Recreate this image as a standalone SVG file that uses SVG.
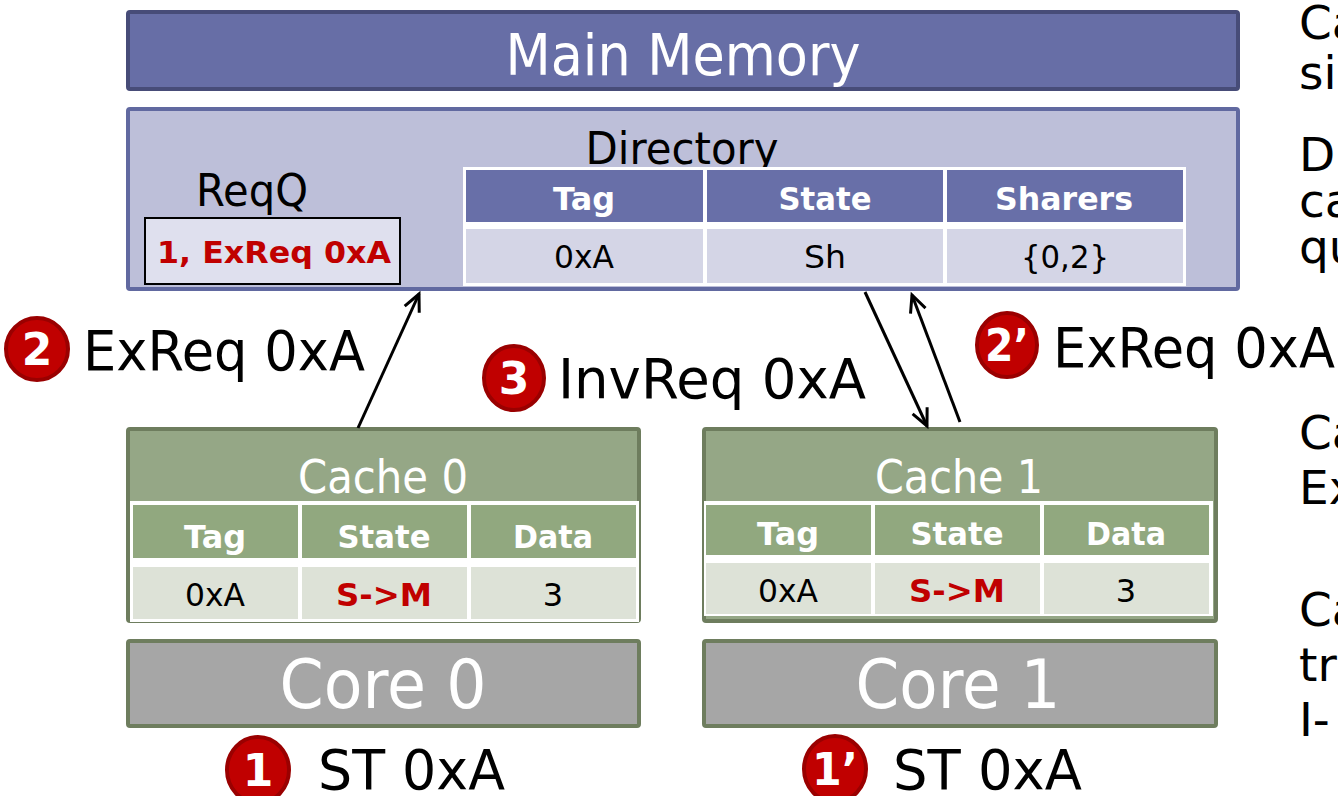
<svg xmlns="http://www.w3.org/2000/svg" width="1338" height="796" viewBox="0 0 1338 796">
<style>
text{font-family:"DejaVu Sans","Liberation Sans",sans-serif}
.c{text-anchor:middle}
.hd{font-weight:bold;fill:#fff;font-size:32px}
.cell{font-size:32px;fill:#000}
.red{font-weight:bold;fill:#c00000}
.big{font-size:56px;fill:#000}
.side{font-size:47px;fill:#000}
.badge{fill:#c00000;stroke:#9a0000;stroke-width:4}
.bnum{font-weight:bold;fill:#fff;font-size:44px;text-anchor:middle}
.conn{stroke:#000;stroke-width:3;fill:none}
</style>
<defs>
<marker id="ah" markerUnits="userSpaceOnUse" markerWidth="26" markerHeight="22" refX="19" refY="9" orient="auto" viewBox="0 0 26 18">
<path d="M2,1 L19,9 L2,17" fill="none" stroke="#000" stroke-width="3"/>
</marker>
</defs>

<g id="main-memory">
<rect x="128" y="12" width="1110" height="77" fill="#676ea6" stroke="#474c78" stroke-width="4" rx="2"/>
<text x="683" y="75" class="c" font-size="57" fill="#fff" textLength="355" lengthAdjust="spacingAndGlyphs">Main Memory</text>
</g>

<g id="directory">
<rect x="128" y="109" width="1110" height="180" fill="#bdbfd9" stroke="#6169a0" stroke-width="4" rx="2"/>
<text x="682" y="164" class="c" font-size="45" textLength="193" lengthAdjust="spacingAndGlyphs">Directory</text>
<rect x="463" y="167" width="723" height="119" fill="#fff"/>
<rect x="466" y="170" width="237" height="52" fill="#686fa8"/>
<rect x="707" y="170" width="236" height="52" fill="#686fa8"/>
<rect x="947" y="170" width="236" height="52" fill="#686fa8"/>
<rect x="466" y="229" width="237" height="54" fill="#d4d5e6"/>
<rect x="707" y="229" width="236" height="54" fill="#d4d5e6"/>
<rect x="947" y="229" width="236" height="54" fill="#d4d5e6"/>
<text x="584" y="210" class="hd c" textLength="62" lengthAdjust="spacingAndGlyphs">Tag</text>
<text x="825" y="210" class="hd c" textLength="93" lengthAdjust="spacingAndGlyphs">State</text>
<text x="1064" y="210" class="hd c" textLength="138" lengthAdjust="spacingAndGlyphs">Sharers</text>
<text x="584" y="268" class="cell c" textLength="60" lengthAdjust="spacingAndGlyphs">0xA</text>
<text x="825" y="268" class="cell c" textLength="42" lengthAdjust="spacingAndGlyphs">Sh</text>
<text x="1065" y="268" class="cell c" textLength="88" lengthAdjust="spacingAndGlyphs">{0,2}</text>
</g>

<g id="reqq">
<text x="252" y="206" class="c" font-size="45" textLength="112" lengthAdjust="spacingAndGlyphs">ReqQ</text>
<rect x="145" y="218" width="255" height="66" fill="#dfe0ee" stroke="#000" stroke-width="2"/>
<text x="274" y="263" class="c red" font-size="30" textLength="234" lengthAdjust="spacingAndGlyphs">1, ExReq 0xA</text>
</g>

<g id="cache0">
<rect x="128" y="429" width="511" height="192" fill="#95a786" stroke="#6e7d5e" stroke-width="4" rx="2"/>
<text x="383" y="493" class="c" font-size="46" fill="#fff" textLength="170" lengthAdjust="spacingAndGlyphs">Cache 0</text>
<rect x="130" y="501" width="509" height="121" fill="#fff"/>
<rect x="133" y="505" width="165" height="53" fill="#91a87f"/>
<rect x="302" y="505" width="165" height="53" fill="#91a87f"/>
<rect x="471" y="505" width="165" height="53" fill="#91a87f"/>
<rect x="133" y="567" width="165" height="52" fill="#dde2d7"/>
<rect x="302" y="567" width="165" height="52" fill="#dde2d7"/>
<rect x="471" y="567" width="165" height="52" fill="#dde2d7"/>
<text x="215" y="548" class="hd c" textLength="62" lengthAdjust="spacingAndGlyphs">Tag</text>
<text x="384" y="548" class="hd c" textLength="93" lengthAdjust="spacingAndGlyphs">State</text>
<text x="553" y="548" class="hd c" textLength="80" lengthAdjust="spacingAndGlyphs">Data</text>
<text x="215" y="606" class="cell c" textLength="60" lengthAdjust="spacingAndGlyphs">0xA</text>
<text x="384" y="606" class="c red" font-size="32" textLength="96" lengthAdjust="spacingAndGlyphs">S-&gt;M</text>
<text x="553" y="606" class="cell c">3</text>
</g>

<g id="core0">
<rect x="128" y="641" width="511" height="85" fill="#a6a6a6" stroke="#6e7d5e" stroke-width="4" rx="2"/>
<text x="383" y="708" class="c" font-size="68" fill="#fff" textLength="207" lengthAdjust="spacingAndGlyphs">Core 0</text>
</g>

<g id="cache1">
<rect x="704" y="429" width="512" height="192" fill="#95a786" stroke="#6e7d5e" stroke-width="4" rx="2"/>
<text x="959" y="493" class="c" font-size="46" fill="#fff" textLength="168" lengthAdjust="spacingAndGlyphs">Cache 1</text>
<rect x="704" y="501" width="509" height="115" fill="#fff"/>
<rect x="706" y="505" width="165" height="50" fill="#91a87f"/>
<rect x="875" y="505" width="165" height="50" fill="#91a87f"/>
<rect x="1044" y="505" width="165" height="50" fill="#91a87f"/>
<rect x="706" y="563" width="165" height="51" fill="#dde2d7"/>
<rect x="875" y="563" width="165" height="51" fill="#dde2d7"/>
<rect x="1044" y="563" width="165" height="51" fill="#dde2d7"/>
<text x="788" y="545" class="hd c" textLength="62" lengthAdjust="spacingAndGlyphs">Tag</text>
<text x="957" y="545" class="hd c" textLength="93" lengthAdjust="spacingAndGlyphs">State</text>
<text x="1126" y="545" class="hd c" textLength="80" lengthAdjust="spacingAndGlyphs">Data</text>
<text x="788" y="602" class="cell c" textLength="60" lengthAdjust="spacingAndGlyphs">0xA</text>
<text x="957" y="602" class="c red" font-size="32" textLength="96" lengthAdjust="spacingAndGlyphs">S-&gt;M</text>
<text x="1126" y="602" class="cell c">3</text>
</g>

<g id="core1">
<rect x="704" y="641" width="512" height="85" fill="#a6a6a6" stroke="#6e7d5e" stroke-width="4" rx="2"/>
<text x="958" y="708" class="c" font-size="68" fill="#fff" textLength="205" lengthAdjust="spacingAndGlyphs">Core 1</text>
</g>

<g id="connectors">
<line x1="358" y1="428" x2="419" y2="294" class="conn" marker-end="url(#ah)"/>
<line x1="865" y1="292" x2="927" y2="426" class="conn" marker-end="url(#ah)"/>
<line x1="960" y1="422" x2="912" y2="295" class="conn" marker-end="url(#ah)"/>
</g>

<g id="label-2">
<circle cx="37" cy="349" r="31" class="badge"/>
<text x="37" y="365" class="bnum">2</text>
<text x="83" y="370" class="big" textLength="282" lengthAdjust="spacingAndGlyphs">ExReq 0xA</text>
</g>

<g id="label-3">
<ellipse cx="514" cy="378" rx="30" ry="32" class="badge"/>
<text x="514" y="394" class="bnum">3</text>
<text x="558" y="398" class="big" textLength="308" lengthAdjust="spacingAndGlyphs">InvReq 0xA</text>
</g>

<g id="label-2p">
<ellipse cx="1007" cy="345" rx="30" ry="32" class="badge"/>
<text x="1007" y="361" class="bnum" textLength="44" lengthAdjust="spacingAndGlyphs">2’</text>
<text x="1053" y="367" class="big" textLength="282" lengthAdjust="spacingAndGlyphs">ExReq 0xA</text>
</g>

<g id="label-1">
<ellipse cx="258" cy="770" rx="31" ry="33" class="badge"/>
<text x="258" y="786" class="bnum">1</text>
<text x="318" y="789" class="big" textLength="187" lengthAdjust="spacingAndGlyphs">ST 0xA</text>
</g>

<g id="label-1p">
<ellipse cx="835" cy="769" rx="31" ry="33" class="badge"/>
<text x="835" y="785" class="bnum" textLength="46" lengthAdjust="spacingAndGlyphs">1’</text>
<text x="893" y="789" class="big" textLength="189" lengthAdjust="spacingAndGlyphs">ST 0xA</text>
</g>

<g id="side-text">
<text x="1299" y="39" class="side">Ca</text>
<text x="1299" y="89" class="side">si</text>
<text x="1299" y="171" class="side">D</text>
<text x="1299" y="217" class="side">ca</text>
<text x="1299" y="263" class="side">qu</text>
<text x="1299" y="449" class="side">Ca</text>
<text x="1299" y="504" class="side">Ex</text>
<text x="1299" y="626" class="side">Ca</text>
<text x="1299" y="681" class="side">tr</text>
<text x="1299" y="736" class="side">I-</text>
</g>
</svg>
